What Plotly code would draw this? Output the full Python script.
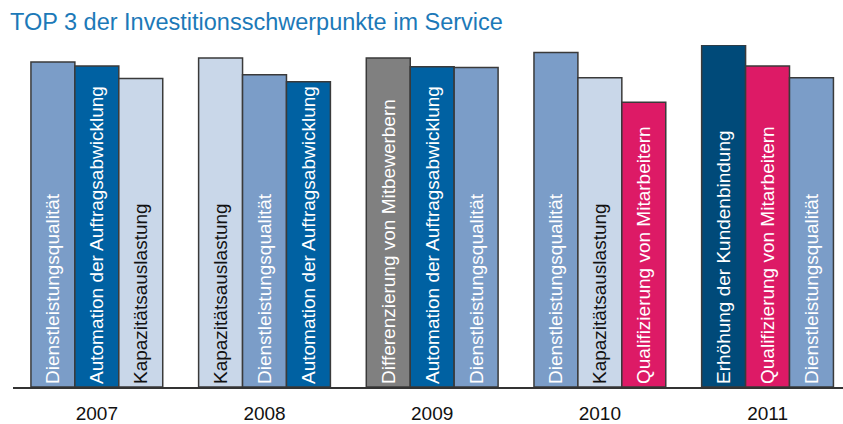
import plotly.graph_objects as go

years = ["2007", "2008", "2009", "2010", "2011"]

# three ranked investment priorities per year (rank 1, 2, 3)
labels_1 = ["Dienstleistungsqualität", "Kapazitätsauslastung", "Differenzierung von Mitbewerbern",
            "Dienstleistungsqualität", "Erhöhung der Kundenbindung"]
labels_2 = ["Automation der Auftragsabwicklung", "Dienstleistungsqualität", "Automation der Auftragsabwicklung",
            "Kapazitätsauslastung", "Qualifizierung von Mitarbeitern"]
labels_3 = ["Kapazitätsauslastung", "Automation der Auftragsabwicklung", "Dienstleistungsqualität",
            "Qualifizierung von Mitarbeitern", "Dienstleistungsqualität"]

values_1 = [41.1, 41.6, 41.6, 42.3, 43.25]
values_2 = [40.6, 39.5, 40.5, 39.1, 40.6]
values_3 = [39.0, 38.6, 40.4, 36.0, 39.1]

topic_colors = {
    "Dienstleistungsqualität": "#7b9dc8",
    "Automation der Auftragsabwicklung": "#0061a2",
    "Kapazitätsauslastung": "#c9d7e9",
    "Differenzierung von Mitbewerbern": "#808080",
    "Qualifizierung von Mitarbeitern": "#dd1a66",
    "Erhöhung der Kundenbindung": "#004a79",
}
topic_text = {
    "Kapazitätsauslastung": "#111111",
}

fig = go.Figure()
for labels, values in [(labels_1, values_1), (labels_2, values_2), (labels_3, values_3)]:
    fig.add_trace(go.Bar(
        x=list(range(len(years))),
        y=values,
        text=labels,
        textposition="inside",
        insidetextanchor="start",
        textangle=-90,
        constraintext="none",
        insidetextfont=dict(family="Liberation Sans, Arial, sans-serif", size=19,
                            color=[topic_text.get(l, "#ffffff") for l in labels]),
        marker=dict(color=[topic_colors[l] for l in labels],
                    line=dict(color="#3a3a3a", width=1.5)),
        hoverinfo="skip",
        showlegend=False,
    ))

fig.update_layout(
    width=843, height=424,
    margin=dict(l=13, r=0, t=45, b=33),
    paper_bgcolor="white", plot_bgcolor="white",
    barmode="group", bargap=0.214, bargroupgap=0,
    font=dict(family="Liberation Sans, Arial, sans-serif", size=19, color="#111111"),
    title=dict(text="TOP 3 der Investitionsschwerpunkte im Service",
               x=10 / 843, xanchor="left", xref="container",
               y=1 - 22 / 424, yanchor="middle", yref="container",
               font=dict(family="Liberation Sans, Arial, sans-serif", size=23.5, color="#1c79b8")),
    xaxis=dict(range=[-0.5, 4.45], tickvals=list(range(len(years))), ticktext=years,
               showgrid=False, zeroline=False, showline=True, linecolor="#333333", linewidth=1.5,
               ticks="", ticklabelstandoff=8, tickfont=dict(size=19, color="#111111")),
    yaxis=dict(range=[0, 43.25], visible=False, showgrid=False, zeroline=False),
)

fig.write_html("out.html")
